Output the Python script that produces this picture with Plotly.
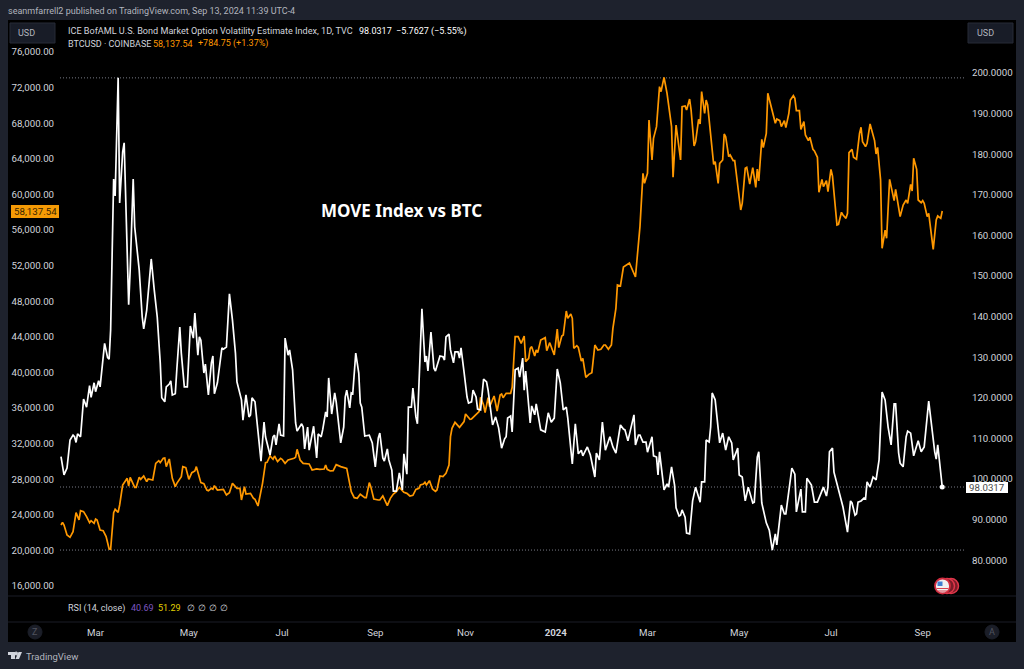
import pandas as pd
import plotly.graph_objects as go

start_date = "2023-02-06"

move_days = [0,2,4,6,8,9,10,11,13,15,17,19,20,22,23,25,26,29,31,32,33,35,36,38,39,41,42,45,46,48,49,52,54,55,57,60,62,64,66,67,69,70,72,73,74,76,77,79,80,82,84,86,88,89,91,92,93,95,96,98,100,101,102,104,107,108,110,112,114,116,117,119,120,121,123,125,126,127,129,130,132,133,135,136,139,141,142,143,145,146,148,149,151,152,154,156,157,160,161,162,164,165,168,170,171,173,174,176,177,178,180,182,183,185,186,188,189,190,192,193,194,196,198,199,200,202,205,207,209,211,212,214,215,217,218,220,221,223,225,227,228,230,231,233,234,236,237,240,242,243,244,246,248,249,252,254,255,256,258,259,261,262,264,265,266,268,270,271,273,274,276,277,279,281,283,284,286,287,289,291,293,295,296,297,299,300,302,304,305,307,308,309,312,313,315,316,319,322,324,326,328,330,332,334,336,337,340,342,344,346,347,350,352,355,356,358,360,362,365,367,369,372,374,375,377,381,382,384,385,387,389,390,393,394,396,397,398,401,403,404,406,408,409,411,412,413,415,416,418,420,422,425,426,428,429,431,432,433,435,437,438,440,442,444,446,447,450,451,453,455,457,460,461,463,464,466,469,471,473,475,476,479,481,482,483,485,486,488,489,492,493,495,496,499,501,503,507,509,510,511,513,514,516,517,520,523,525,526,528,529,530,532,534,535,536,538,540,542,544,546,548,550,552,554,555,557,558,560,562,563,565,567,570,572,574,577,579,581,582,583,586]
move_values = [105.5,101.0,102.7,109.6,110.8,110.4,109.0,111.1,110.4,119.7,117.7,123.0,120.1,123.7,121.5,124.2,122.7,133.4,129.9,129.5,136.7,173.9,169.7,198.8,168.0,180.5,182.8,142.9,151.5,173.9,162.1,151.5,139.9,137.0,141.6,154.2,146.6,139.9,128.6,120.0,119.0,122.7,123.4,124.2,120.7,121.0,126.9,137.4,131.0,122.7,122.7,137.7,134.7,140.9,130.5,135.0,134.2,126.1,128.3,120.7,128.6,130.3,121.0,123.7,132.3,132.0,132.5,145.6,139.2,131.0,123.9,120.7,119.5,114.5,120.7,115.3,115.8,120.0,119.0,115.3,107.9,104.4,114.0,110.4,105.9,110.4,110.8,108.4,113.6,110.8,110.6,134.7,130.5,131.8,126.9,113.8,111.8,113.6,112.8,107.4,112.8,107.1,113.0,105.2,111.1,110.4,112.1,116.5,115.3,124.9,116.0,121.2,119.0,112.8,108.9,112.8,120.2,121.9,117.5,121.2,121.0,131.0,126.1,118.7,117.7,110.6,110.8,108.9,103.0,110.1,111.3,105.2,104.4,107.4,104.7,102.2,97.0,97.0,101.5,97.3,106.2,101.2,117.7,117.7,122.4,115.3,113.6,141.9,128.8,130.3,126.6,136.2,127.3,126.6,130.3,130.1,129.3,135.0,135.7,131.8,128.6,131.3,131.3,129.8,132.3,126.4,120.2,118.7,119.0,121.9,120.2,117.2,117.0,124.6,123.9,121.9,115.3,113.3,115.3,112.6,107.6,109.9,110.4,115.0,115.5,111.6,126.9,127.3,125.1,129.8,121.9,126.6,113.8,118.0,115.8,118.5,112.1,111.6,116.3,114.0,115.0,127.1,123.7,117.0,117.7,115.0,103.7,113.6,106.2,107.1,105.7,107.9,105.9,100.5,106.4,104.7,114.0,107.1,110.4,107.9,106.4,113.3,112.3,112.1,109.4,115.8,108.4,110.8,110.8,109.1,109.1,106.6,110.4,105.7,105.4,101.0,106.7,97.3,98.8,98.0,103.0,98.5,92.9,90.9,91.1,92.4,90.6,86.7,86.5,94.6,98.0,94.3,99.3,99.3,109.6,109.1,112.8,121.2,119.5,112.8,108.9,111.3,107.1,110.4,108.9,104.7,107.6,101.0,100.5,94.6,98.0,94.1,94.3,105.4,106.7,94.1,89.2,87.4,82.5,86.5,83.8,93.6,91.4,91.4,94.1,100.5,102.7,101.2,91.9,97.5,91.9,91.9,100.2,98.5,94.3,94.3,98.0,95.8,98.0,106.7,107.6,101.7,98.8,98.0,93.1,86.9,94.6,94.1,91.1,91.4,94.3,94.6,95.3,95.1,99.3,98.0,100.5,99.8,104.7,121.4,119.5,112.8,108.4,118.5,118.5,106.4,103.9,103.0,110.4,111.8,111.3,105.7,109.4,106.7,107.9,119.2,112.8,106.7,104.9,108.4,98.0317]

btc_days = [0,1,2,4,6,8,10,12,13,15,17,19,20,22,23,24,26,28,30,32,33,35,36,38,39,41,44,45,46,49,50,52,53,55,57,58,61,63,65,66,68,69,70,72,74,76,77,80,81,83,85,87,89,90,93,95,97,98,100,101,102,104,108,110,112,114,117,119,120,122,123,126,128,129,131,132,134,136,137,139,141,142,144,146,147,149,151,155,156,157,159,161,165,167,170,172,175,176,177,179,181,183,186,190,191,193,195,197,199,202,203,205,206,208,211,212,214,215,217,219,221,223,225,228,230,232,234,236,238,239,241,242,243,245,247,249,250,252,254,256,258,259,260,262,264,265,268,269,272,273,278,279,281,282,284,285,288,290,292,293,294,296,299,300,302,304,306,308,309,311,312,313,315,316,317,319,322,323,325,328,330,331,333,334,336,337,339,340,341,343,344,346,347,349,351,353,355,357,359,361,362,364,366,367,369,370,372,374,378,382,383,385,387,388,390,391,393,394,396,398,399,401,403,406,407,409,412,413,415,416,418,419,421,422,424,425,426,428,429,430,434,435,437,438,440,441,442,444,445,447,448,452,453,455,456,458,460,462,463,464,466,467,469,470,475,476,478,479,481,482,484,485,487,488,489,491,492,494,495,497,498,500,501,503,504,506,507,509,510,512,513,516,517,519,520,522,523,524,526,527,529,531,532,533,535,536,538,540,541,542,543,545,546,548,549,551,552,554,555,557,558,560,562,563,565,566,567,569,570,572,573,574,576,577,580,582,583,585,586]
btc_values = [22856,23156,22856,21733,21470,22107,24242,23418,24466,24354,23792,23118,23343,23043,23530,23418,22294,22219,21545,20160,20122,24242,24616,24279,25103,27350,28099,27238,28212,27088,27088,28212,27987,28361,27725,28024,27912,29784,30084,29859,30347,30384,29410,30271,28099,27163,27538,28287,29410,29298,27987,28736,28923,29410,27612,27500,26788,26714,26976,26863,27275,26788,26863,26227,26489,27538,26976,26976,25665,27163,26339,26414,25852,25740,24990,25852,27538,29859,29897,30608,30234,30608,29972,30347,30234,29784,30159,30347,30459,31357,30159,29784,29710,29036,29148,29110,29148,29597,29110,28923,28961,29635,29410,29223,28473,26601,25927,25852,26302,25927,25927,27612,27163,25777,25665,25665,26114,25777,25029,25852,26339,26601,27088,26526,26414,26114,26189,26863,26976,27350,27462,27650,27350,27837,26901,26638,26788,28361,28287,28661,29597,32780,33717,34391,34091,33829,34466,35327,34728,34766,35589,37200,36338,35477,37162,36151,37349,35664,37462,37574,37162,37649,37649,38323,44015,44015,43266,44090,41207,41581,42705,42892,41843,42518,42218,43641,43903,42442,43341,41956,44877,42780,44090,44203,46899,46075,46562,46075,42705,43004,42817,41282,41581,39447,39784,39971,43079,42518,42592,43079,43079,42592,43079,44952,47199,49820,49708,51843,52292,50719,52631,56376,62369,61245,62369,68360,63866,66301,67612,72105,71544,73154,71356,67612,61919,67799,63866,69859,69933,69484,70720,69484,65439,65926,68435,67911,71544,69110,70607,70046,63380,63679,61245,63492,63866,66788,66488,64241,64428,63791,63791,58249,58998,62930,63043,61170,63005,60796,62855,61507,66188,65252,66863,71356,67986,68473,68286,67612,68286,67499,69110,70607,71094,70795,69409,69409,67312,68173,66675,66039,66413,65065,64878,64166,60234,61694,60870,61544,60309,62818,62069,56564,56638,57987,57687,57313,57874,64690,65065,64166,63941,66863,67536,65926,65364,65739,67911,66488,66039,64541,65290,61620,53942,55992,55066,61694,60870,59298,60571,58624,57500,58811,59373,58998,61132,60384,64054,62818,59373,59073,59298,58998,57500,57874,53830,57126,57575,57313,58137.54]

left_ticks = list(range(16000, 76001, 4000))
right_ticks = list(range(80, 201, 10))
month_ticks = ["2023-03-01","2023-05-02","2023-07-03","2023-09-03","2023-11-02","2024-01-01","2024-03-02","2024-05-02","2024-07-02","2024-09-01"]
month_labels = ["Mar","May","Jul","Sep","Nov","<b>2024</b>","Mar","May","Jul","Sep"]

W, H = 1024, 669
L, R, T, B = 60, 966, 22, 622
BG = "#1e222d"
FONT = "Roboto"
AXFONT = "Roboto"
AXC = "#d1d4dc"
ORANGE = "#ff9800"

def px(x): return (x - L) / (R - L)
def py(y): return (B - y) / (B - T)

t0 = pd.Timestamp(start_date)
move_x = [t0 + pd.Timedelta(days=d) for d in move_days]
btc_x = [t0 + pd.Timedelta(days=d) for d in btc_days]
x_lo = t0 + pd.Timedelta(hours=-16)
x_hi = t0 + pd.Timedelta(days=601.8)

fig = go.Figure()
fig.add_trace(go.Scatter(x=btc_x, y=btc_values, yaxis="y", mode="lines", line=dict(color=ORANGE, width=1.7), showlegend=False, hoverinfo="skip"))
fig.add_trace(go.Scatter(x=move_x, y=move_values, yaxis="y2", mode="lines", line=dict(color="#ffffff", width=1.7), showlegend=False, hoverinfo="skip"))
fig.add_trace(go.Scatter(x=move_x[-1:], y=move_values[-1:], yaxis="y2", mode="markers", marker=dict(color="#ffffff", size=5), showlegend=False, hoverinfo="skip"))

shapes = []
def rect(x0, y0, x1, y1, fill, line=None, layer="below"):
    shapes.append(dict(type="rect", xref="paper", yref="paper", x0=px(x0), x1=px(x1), y0=py(y1), y1=py(y0), fillcolor=fill, line=dict(color=line or fill, width=1 if line else 0), layer=layer))
def circle(cx, cy, r, fill, line=None, lw=1):
    shapes.append(dict(type="circle", xref="paper", yref="paper", x0=px(cx-r), x1=px(cx+r), y0=py(cy+r), y1=py(cy-r), fillcolor=fill, line=dict(color=line or fill, width=lw), layer="above"))
def hline(val, yref="y2"):
    shapes.append(dict(type="line", xref="paper", yref=yref, x0=0, x1=1, y0=val, y1=val, line=dict(color="#787b86", width=1, dash="1px,2px"), layer="below"))
def sep(y):
    shapes.append(dict(type="line", xref="paper", yref="paper", x0=px(8), x1=px(1016), y0=py(y), y1=py(y), line=dict(color="#1a1d26", width=1), layer="above"))

rect(8, 20, 1016, 642, "#000000")
sep(596); sep(622)
hline(max(move_values)); hline(min(move_values)); hline(move_values[-1])
rect(10, 23, 55, 43, "#181c27", "#262a36", "above")
rect(968, 23, 1013, 43, "#181c27", "#262a36", "above")
rect(11, 205, 59, 218, "#f59a05", None, "above")
rect(966, 482, 1008, 493, "#ffffff", None, "above")
# Z / A buttons
circle(35, 632, 7, "#1b1e28")
circle(992, 632, 7, "#1b1e28")
# calendar badge
circle(951, 586, 7.5, "#7a1c28", "#e0364a", 1.5)
circle(947, 586, 7.5, "#7a1c28", "#e0364a", 1.5)
circle(942.5, 586, 7.5, "#f0f0f0", "#d12c3f", 1.8)
rect(937.5, 581.5, 942.5, 586, "#3f7fd0", None, "above")
rect(936.5, 588, 948.5, 589, "#d9404f", None, "above")
rect(937.5, 590.5, 947.5, 591.5, "#d9404f", None, "above")
# TradingView mark
shapes.append(dict(type="path", xref="paper", yref="paper", layer="above", fillcolor="#d1d4dc", line=dict(width=0),
    path="M %f,%f L %f,%f L %f,%f L %f,%f L %f,%f L %f,%f Z" % (px(8),py(652),px(15),py(652),px(15),py(659),px(11),py(659),px(11),py(655),px(8),py(655))))
shapes.append(dict(type="path", xref="paper", yref="paper", layer="above", fillcolor="#d1d4dc", line=dict(width=0),
    path="M %f,%f L %f,%f L %f,%f L %f,%f Z" % (px(18.5),py(652),px(22),py(652),px(19),py(659),px(15.5),py(659))))
circle(16.2, 653.5, 1.5, "#d1d4dc")

def txt(x, y, s, color=AXC, size=9, anchor="left", family=FONT):
    return dict(xref="paper", yref="paper", x=px(x), y=py(y), text=s, showarrow=False, xanchor=anchor, yanchor="middle",
                font=dict(family=family, size=size, color=color), align="left")

ann = [
    txt(6, 11, "seanmfarrell2 published on TradingView.com, Sep 13, 2024 11:39 UTC-4", "#b2b5be"),
    txt(66, 31, "ICE BofAML U.S. Bond Market Option Volatility Estimate Index, 1D, TVC", "#d1d4dc", 9.1),
    txt(357, 31, "98.0317", "#ffffff"),
    txt(394, 31, "−5.7627 (−5.55%)", "#ffffff"),
    txt(66, 44, "BTCUSD · COINBASE", "#d1d4dc"),
    txt(151, 44, "58,137.54", ORANGE),
    txt(196, 44, "+784.75 (+1.37%)", ORANGE),
    txt(16, 33, "USD", "#b2b5be"),
    txt(975, 33, "USD", "#b2b5be"),
    txt(35, 211.5, "58,137.54", "#3a2500", 9.7, "center", AXFONT),
    txt(987, 487.5, "98.0317", "#4a4a4a", 9.7, "center", AXFONT),
    txt(401, 210, "<b>MOVE Index vs BTC</b>", "#ffffff", 17, "center", "Noto Sans"),
    txt(66, 608, "RSI (14, close)", "#d1d4dc"),
    txt(129, 608, "40.69", "#7e57c2"),
    txt(156, 608, "51.29", "#e0d000"),
    txt(185, 608, "∅", "#d1d4dc"),
    txt(196, 608, "∅", "#d1d4dc"),
    txt(207, 608, "∅", "#d1d4dc"),
    txt(218, 608, "∅", "#d1d4dc"),
    txt(35, 632, "Z", "#50535e", 9, "center"),
    txt(992, 632, "A", "#50535e", 9, "center"),
    txt(24, 656, "TradingView", "#b2b5be", 9.5),
]

fig.update_layout(
    width=W, height=H, autosize=False,
    margin=dict(l=L, r=W-R, t=T, b=H-B, pad=0),
    paper_bgcolor=BG, plot_bgcolor="rgba(0,0,0,0)",
    showlegend=False, shapes=shapes, annotations=ann,
    font=dict(family=AXFONT, size=9.7, color=AXC),
    xaxis=dict(range=[x_lo, x_hi], type="date", tickvals=month_ticks, ticktext=month_labels, showgrid=False, zeroline=False, showline=False, automargin=False,
               ticks="outside", ticklen=1, tickcolor="rgba(0,0,0,0)", tickfont=dict(size=9.7, color=AXC), tickangle=0),
    yaxis=dict(range=[11955, 79371], tickvals=left_ticks, ticktext=[f"{v:,.2f}" for v in left_ticks], showgrid=False, zeroline=False, showline=False, automargin=False,
               side="left", ticks="outside", ticklen=3, tickcolor="rgba(0,0,0,0)", tickfont=dict(size=9.7, color=AXC)),
    yaxis2=dict(range=[64.78, 212.56], tickvals=right_ticks, ticktext=[f"{v:.4f}" for v in right_ticks], showgrid=False, zeroline=False, showline=False, automargin=False,
                overlaying="y", side="right", ticks="outside", ticklen=3, tickcolor="rgba(0,0,0,0)", tickfont=dict(size=9.7, color=AXC)),
)

fig.write_html("out.html", config=dict(displayModeBar=False), post_script="document.body.style.margin='0';document.documentElement.style.overflow='hidden';")
